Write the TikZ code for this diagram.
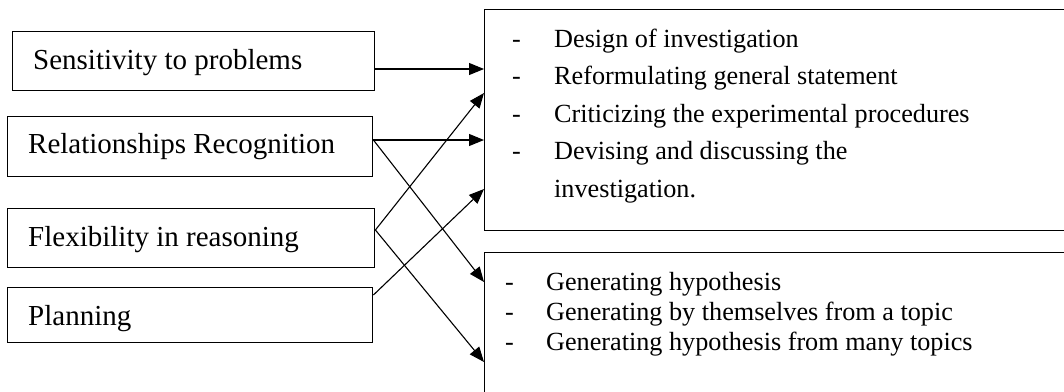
\documentclass[tikz,border=0pt]{standalone}
\usepackage{fontspec}
\setmainfont{Liberation Serif}
\usetikzlibrary{arrows.meta}
\tikzset{
  box/.style={draw, line width=1.4pt, inner sep=0pt, anchor=north west},
  txt/.style={inner sep=0pt, anchor=base west, font=\fontsize{29}{30}\selectfont},
  link/.style={line width=1.1pt, -{Triangle[length=15pt,width=12pt]}},
}
\begin{document}
\begin{tikzpicture}[x=1pt, y=-1pt]
\useasboundingbox (0,0) rectangle (1064,391);
\clip (0,0) rectangle (1064,391);

% skills on the left
\node[box, minimum width=362pt, minimum height=59pt] (sens) at (12,31) {};
\node[txt] (senst) at (33,69) {Sensitivity to problems};
\node[box, minimum width=365pt, minimum height=60pt] (rel) at (7,116) {};
\node[txt] (relt) at (28,153) {Relationships Recognition};
\node[box, minimum width=367pt, minimum height=59pt] (flex) at (7,208) {};
\node[txt] (flext) at (28,246) {Flexibility in reasoning};
\node[box, minimum width=365pt, minimum height=55pt] (plan) at (7,287) {};
\node[txt] (plant) at (28,325) {Planning};

% activities on the right
\node[box, minimum width=620pt, minimum height=221pt] (inv) at (484,9) {};
\node[txt] (invt) at (512,47) {\fontsize{26.2}{37.6}\selectfont
  \begin{tabular}[t]{@{}p{42pt}@{}l@{}}
  - & Design of investigation\\
  - & Reformulating general statement\\
  - & Criticizing the experimental procedures\\
  - & Devising and discussing the\\
    & investigation.
  \end{tabular}};
\node[box, minimum width=620pt, minimum height=180pt] (hyp) at (484,252) {};
\node[txt] (hypt) at (505,290) {\fontsize{26.2}{30}\selectfont
  \begin{tabular}[t]{@{}p{41pt}@{}l@{}}
  - & Generating hypothesis\\
  - & Generating by themselves from a topic\\
  - & Generating hypothesis from many topics
  \end{tabular}};

% anchor points on the box edges
\coordinate (s1) at (sens.east |- 0,69);
\coordinate (r1) at (rel.east |- 0,140);
\coordinate (f1) at (flex.east |- 0,230);
\coordinate (p1) at (plan.east |- 0,295);
\coordinate (i1) at (inv.west |- 0,69);
\coordinate (i2) at (inv.west |- 0,93);
\coordinate (i3) at (inv.west |- 0,140);
\coordinate (i4) at (inv.west |- 0,189);
\coordinate (h1) at (hyp.west |- 0,282);
\coordinate (h2) at (hyp.west |- 0,362);

% connections
\draw[link] (s1) -- (i1);
\draw[link] (r1) -- (i3);
\draw[link] (r1) -- (h1);
\draw[link] (f1) -- (i2);
\draw[link] (f1) -- (h2);
\draw[link] (p1) -- (i4);
\end{tikzpicture}
\end{document}
